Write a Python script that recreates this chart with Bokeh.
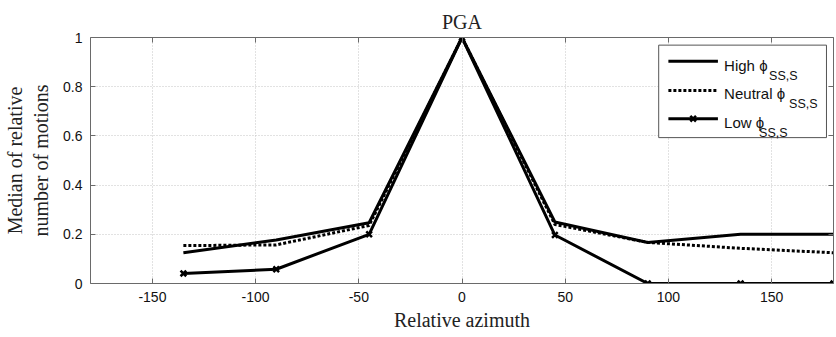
from bokeh.plotting import figure
from bokeh.models import Range1d, LinearAxis, FixedTicker, Label, CustomJSTickFormatter
from bokeh.embed import file_html
from bokeh.resources import INLINE

# Relative azimuth (degrees) and median relative number of motions
azimuth = [-135, -90, -45, 0, 45, 90, 135, 180]
high_phi = [0.125, 0.177, 0.247, 1.0, 0.25, 0.167, 0.2, 0.2]
neutral_phi = [0.154, 0.157, 0.236, 1.0, 0.24, 0.167, 0.143, 0.125]
low_phi = [0.041, 0.058, 0.2, 1.0, 0.197, 0.0, 0.0, 0.0]

x_ticks = [-150, -100, -50, 0, 50, 100, 150]
x_tick_labels = ["-150", "-100", "-50", "0", "50", "100", "150"]
y_ticks = [0, 0.2, 0.4, 0.6, 0.8, 1.0]
y_tick_labels = ["0", "0.2", "0.4", "0.6", "0.8", "1"]

series_names = ["High \u03d5", "Neutral \u03d5", "Low \u03d5"]
subscript = "SS,S"

SERIF = "Liberation Serif"
SANS = "Liberation Sans"
FRAME = "#6a6a6a"

p = figure(width=836, height=337, output_backend="svg", toolbar_location=None,
           x_range=Range1d(-180, 180), y_range=Range1d(0, 1),
           min_border_left=90, min_border_right=3, min_border_top=37,
           min_border_bottom=54, title="PGA")

p.title.align = "center"
p.title.text_font = SERIF
p.title.text_font_size = "20px"
p.title.text_font_style = "normal"
p.title.text_color = "#222222"
p.title.standoff = 10

p.outline_line_color = None
p.background_fill_color = "white"
p.border_fill_color = "white"

for ax in (p.xaxis[0], p.yaxis[0]):
    ax.axis_line_color = FRAME
    ax.major_tick_line_color = FRAME
    ax.major_tick_in = 5
    ax.major_tick_out = 0
    ax.minor_tick_line_color = None
    ax.major_label_text_font = SANS
    ax.major_label_text_font_size = "14px"
    ax.major_label_text_color = "#111111"
    ax.axis_label_text_font = SERIF
    ax.axis_label_text_font_size = "20px"
    ax.axis_label_text_font_style = "normal"
    ax.axis_label_text_color = "#222222"

p.xaxis[0].ticker = FixedTicker(ticks=x_ticks)
p.yaxis[0].ticker = FixedTicker(ticks=y_ticks)
p.xaxis[0].major_label_overrides = {t: s for t, s in zip(x_ticks, x_tick_labels)}
p.yaxis[0].major_label_overrides = {t: s for t, s in zip(y_ticks, y_tick_labels)}
p.xaxis[0].axis_label = "Relative azimuth"
p.yaxis[0].axis_label = "Median of relative\nnumber of motions"
p.xaxis[0].major_label_standoff = 8
p.yaxis[0].major_label_standoff = 8
p.xaxis[0].axis_label_standoff = 4
p.yaxis[0].axis_label_standoff = 8

# Box axes on the top and right with inward ticks and blank labels
blank = CustomJSTickFormatter(code="return ''")
top = LinearAxis(ticker=FixedTicker(ticks=x_ticks), formatter=blank,
                 axis_line_color=FRAME, major_tick_line_color=FRAME,
                 major_tick_in=5, major_tick_out=0, minor_tick_line_color=None,
                 major_label_standoff=0)
right = LinearAxis(ticker=FixedTicker(ticks=y_ticks), formatter=blank,
                   axis_line_color=FRAME, major_tick_line_color=FRAME,
                   major_tick_in=5, major_tick_out=0, minor_tick_line_color=None,
                   major_label_standoff=0)
p.add_layout(top, "above")
p.add_layout(right, "right")

p.grid.grid_line_color = "#c4c4c4"
p.grid.grid_line_dash = "1 2"
p.grid.grid_line_width = 1
p.xgrid.ticker = FixedTicker(ticks=x_ticks)
p.ygrid.ticker = FixedTicker(ticks=y_ticks)

# Data series
p.line(azimuth, high_phi, line_color="black", line_width=3)
p.line(azimuth, neutral_phi, line_color="black", line_width=3, line_dash="3 2")
p.line(azimuth, low_phi, line_color="black", line_width=3)
p.scatter(azimuth, low_phi, marker="x", size=8, line_color="black", line_width=2.5)

# Legend box with subscripted labels
p.quad(left=[95.3], right=[176.6], bottom=[0.593], top=[0.969],
       fill_color="white", line_color="#555555", line_width=1)
row_y = [0.903, 0.785, 0.670]
text_y = [0.887, 0.771, 0.656]
sub_dx = [45, 65, 35]
p.line([100, 124], [row_y[0]] * 2, line_color="black", line_width=3)
p.line([100, 124], [row_y[1]] * 2, line_color="black", line_width=3, line_dash="3 2")
p.line([100, 124], [row_y[2]] * 2, line_color="black", line_width=3)
p.scatter([112], [row_y[2]], marker="x", size=8, line_color="black", line_width=2.5)
for name, ty, dx in zip(series_names, text_y, sub_dx):
    p.add_layout(Label(x=127, y=ty, text=name, text_font=SANS, text_font_size="15px",
                       text_baseline="alphabetic", text_color="#111111"))
    p.add_layout(Label(x=127, y=ty, x_offset=dx, y_offset=-10.5, text=subscript,
                       text_font=SANS, text_font_size="12.5px",
                       text_baseline="alphabetic", text_color="#111111"))

open("out.html", "w").write(file_html(p, INLINE))
